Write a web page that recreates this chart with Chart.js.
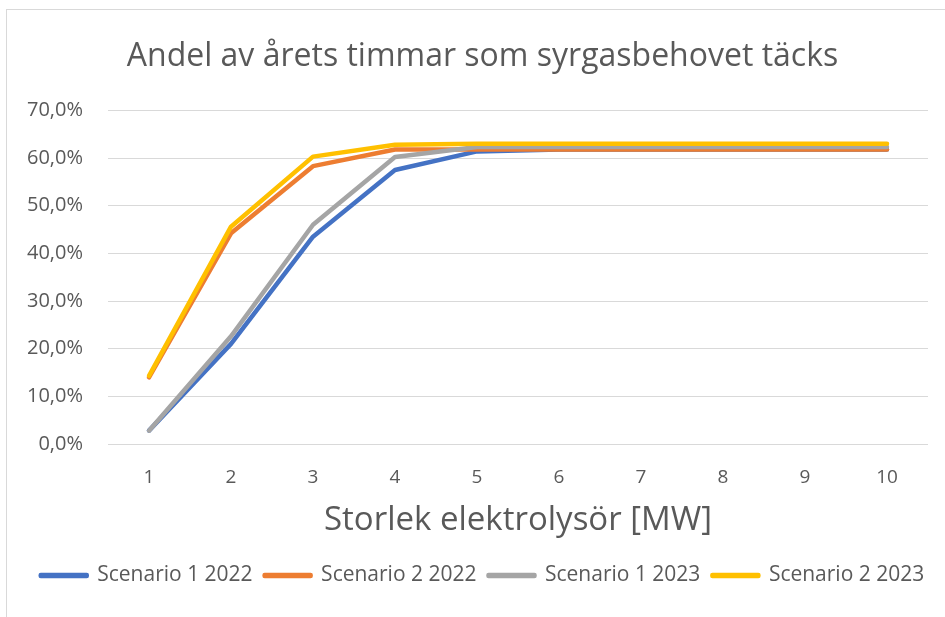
<!DOCTYPE html>
<html>
<head>
<meta charset="utf-8">
<script src="https://cdn.jsdelivr.net/npm/chart.js@4/dist/chart.umd.min.js"></script>
<style>
  html, body { margin: 0; padding: 0; background: #fff; }
  body { width: 945px; height: 617px; overflow: hidden; position: relative; }
  .frame {
    position: absolute; left: 6px; top: 9px; width: 950px; height: 620px;
    border-left: 1px solid #d9d9d9; border-top: 1px solid #d9d9d9;
  }
  .wrap { position: absolute; left: 7px; top: 10px; width: 938px; height: 607px; }
</style>
</head>
<body>
<div class="frame"></div>
<div class="wrap"><canvas id="chart"></canvas></div>
<script>
const sizes     = ['1', '2', '3', '4', '5', '6', '7', '8', '9', '10'];
const scen1_22  = [2.8, 21.0, 43.5, 57.5, 61.4, 61.8, 61.8, 61.8, 61.8, 61.8];
const scen2_22  = [14.0, 44.2, 58.3, 61.8, 61.8, 61.8, 61.8, 61.8, 61.8, 61.8];
const scen1_23  = [2.8, 22.6, 46.0, 60.2, 62.3, 62.3, 62.3, 62.3, 62.3, 62.3];
const scen2_23  = [14.3, 45.6, 60.3, 62.8, 63.0, 63.0, 63.0, 63.0, 63.0, 63.0];

const FONT = "'Open Sans', sans-serif";
const TXT  = '#595959';

function line(label, data, color, order) {
  return {
    label, data, order,
    borderColor: color,
    backgroundColor: color,
    borderWidth: 4.5,
    borderCapStyle: 'round',
    borderJoinStyle: 'round',
    pointRadius: 0,
    tension: 0,
  };
}

// title and legend sit a bit right of the full-width centre in the original
const nudge = {
  id: 'nudge',
  afterLayout(chart) {
    for (const box of [chart.titleBlock, chart.legend]) {
      box.left += 15;
      box.right += 15;
    }
  },
};

new Chart(document.getElementById('chart'), {
  type: 'line',
  data: {
    labels: sizes,
    datasets: [
      line('Scenario 1 2022', scen1_22, '#4472C4', 4),
      line('Scenario 2 2022', scen2_22, '#ED7D31', 3),
      line('Scenario 1 2023', scen1_23, '#A5A5A5', 2),
      line('Scenario 2 2023', scen2_23, '#FFC000', 1),
    ],
  },
  plugins: [nudge],
  options: {
    responsive: true,
    maintainAspectRatio: false,
    animation: false,
    layout: { padding: { left: 0, right: 17, top: 0, bottom: 21 } },
    plugins: {
      title: {
        display: true,
        text: 'Andel av årets timmar som syrgasbehovet täcks',
        color: TXT,
        font: { family: FONT, size: 32, weight: 'normal' },
        padding: { top: 28, bottom: 34 },
      },
      legend: {
        position: 'bottom',
        labels: {
          color: TXT,
          font: { family: FONT, size: 21 },
          boxWidth: 46,
          boxHeight: 1,
          padding: 12,
          sort: (a, b) => a.datasetIndex - b.datasetIndex,
        },
      },
      tooltip: { enabled: false },
    },
    scales: {
      x: {
        offset: true,
        grid: { display: false, drawTicks: false },
        border: { display: false },
        ticks: { color: TXT, font: { family: FONT, size: 19 }, padding: 22 },
        title: {
          display: true,
          text: 'Storlek elektrolysör [MW]',
          color: TXT,
          font: { family: FONT, size: 33 },
          padding: { top: 0, bottom: 13 },
        },
        afterFit: s => { s.height = 109; },
      },
      y: {
        min: 0, max: 70,
        grid: { color: '#d9d9d9', lineWidth: 1, drawTicks: false },
        border: { display: false },
        ticks: {
          stepSize: 10,
          color: TXT,
          font: { family: FONT, size: 20 },
          padding: 25,
          callback: v => v.toFixed(1).replace('.', ',') + '%',
        },
        afterFit: s => { s.width = 101; },
      },
    },
  },
});
</script>
</body>
</html>
